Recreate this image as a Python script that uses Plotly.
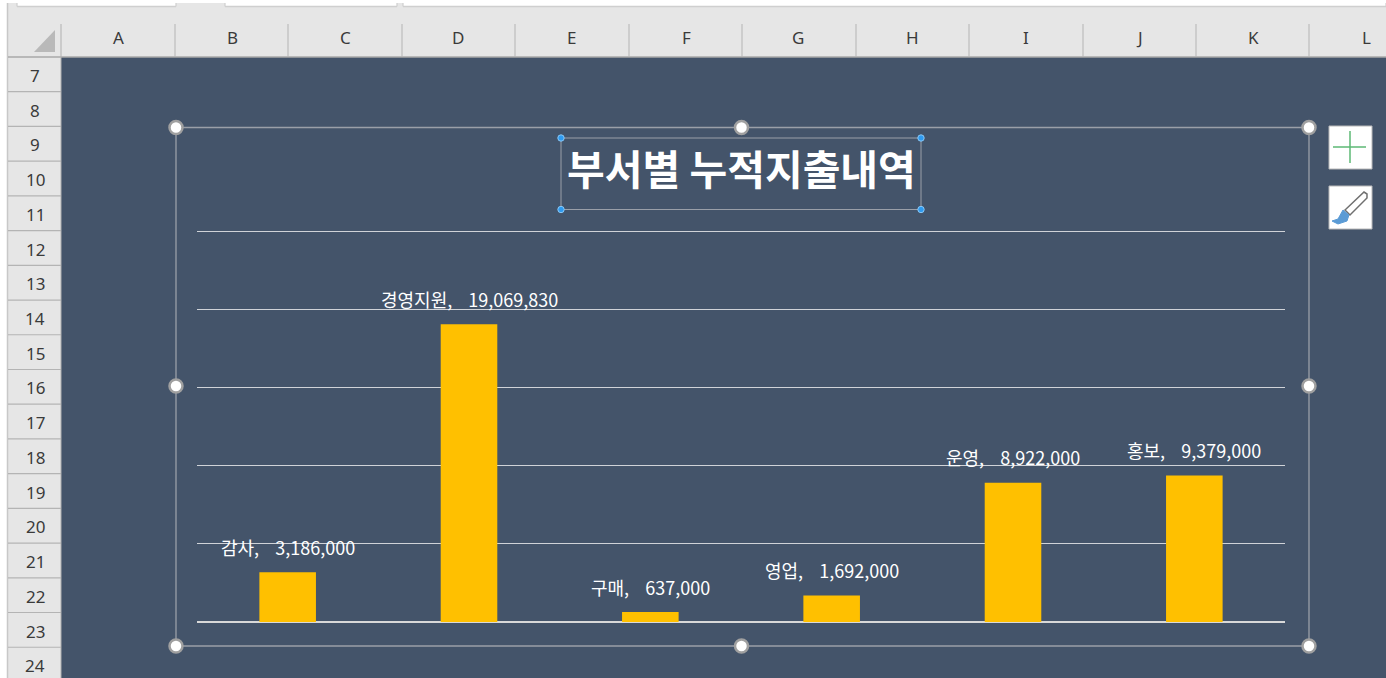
import plotly.graph_objects as go

W, H = 1386, 678
categories = ["감사", "경영지원", "구매", "영업", "운영", "홍보"]
values = [3186000, 19069830, 637000, 1692000, 8922000, 9379000]
title_text = "부서별 누적지출내역"
column_names = ["A", "B", "C", "D", "E", "F", "G", "H", "I", "J", "K", "L"]
row_names = [str(n) for n in range(7, 25)]

BG = "#44546A"
HEAD = "#E6E6E6"
SEP = "#B4B4B4"
FRAME = "#9A9FA8"
KR = "Noto Sans CJK KR"


def px(x):
    return x / W


def py(y):
    return 1 - y / H


shapes = []


def rect(x0, y0, x1, y1, fill, line=None, lw=1):
    shapes.append(dict(type="rect", xref="paper", yref="paper", x0=px(x0), x1=px(x1), y0=py(y0), y1=py(y1),
                       fillcolor=fill, line=dict(color=line or fill, width=lw if line else 0), layer="above"))


def line(x0, y0, x1, y1, color, lw=1):
    shapes.append(dict(type="line", xref="paper", yref="paper", x0=px(x0), x1=px(x1), y0=py(y0), y1=py(y1),
                       line=dict(color=color, width=lw), layer="above"))


def poly(points, fill, edge=None, lw=1):
    d = "M " + " L ".join(f"{px(a):.5f},{py(b):.5f}" for a, b in points) + " Z"
    shapes.append(dict(type="path", xref="paper", yref="paper", path=d, fillcolor=fill,
                       line=dict(color=edge or fill, width=lw if edge else 0), layer="above"))


def dot(cx, cy, r, fill, edge, lw):
    shapes.append(dict(type="circle", xref="paper", yref="paper", x0=px(cx - r), x1=px(cx + r),
                       y0=py(cy + r), y1=py(cy - r), fillcolor=fill, line=dict(color=edge, width=lw), layer="above"))


# spreadsheet chrome
rect(0, 0, W, 3, "#FFFFFF")
rect(0, 0, 7, H, "#FFFFFF")
rect(8, 3, W, 57, HEAD)
rect(8, 57, 61, H, HEAD)
line(7.5, 3, 7.5, H, "#C8C8C8", 1.5)
for x0, x1 in [(17, 176), (225, 397), (403, W)]:
    rect(x0, 3, x1, 6, "#FFFFFF")
    line(x0, 6.5, x1, 6.5, "#CFCFCF", 1.5)
    line(x0, 3, x0, 6.5, "#CFCFCF", 1.2)
    line(x1, 3, x1, 6.5, "#CFCFCF", 1.2)
poly([(55, 30), (55, 52), (34, 52)], "#B9B9B9")
line(8, 57, W, 57, "#A8A8A8", 1.5)
line(61, 24, 61, H, "#B0B0B0", 1)
col_edges = [61, 175, 288, 402, 515, 629, 742, 856, 969, 1083, 1196, 1309]
for x in col_edges[1:]:
    line(x, 24, x, 57, SEP, 1)
row_edges = [57 + 34.72 * i for i in range(19)]
for y in row_edges[1:]:
    line(8, y, 61, y, SEP, 1.2)

annotations = []
col_pos = [118, 232, 345, 458, 571, 686, 798, 912, 1026, 1139, 1253, 1366]
for name, x in zip(column_names, col_pos):
    annotations.append(dict(text=name, xref="paper", yref="paper", x=px(x), y=py(37), showarrow=False,
                            xanchor="center", yanchor="middle",
                            font=dict(family="Noto Sans", size=17, color="#3A3A3A")))
for i, name in enumerate(row_names):
    annotations.append(dict(text=name, xref="paper", yref="paper", x=px(35), y=py(75.5 + 34.72 * i), showarrow=False,
                            xanchor="center", yanchor="middle",
                            font=dict(family="Noto Sans", size=17, color="#3A3A3A")))

# selection frame and handles
shapes.append(dict(type="rect", xref="paper", yref="paper", x0=px(176), x1=px(1309), y0=py(127.5), y1=py(646),
                   line=dict(color=FRAME, width=1.3), layer="above"))
for cx, cy in [(176, 127.5), (741.5, 127.5), (1309, 127.5), (176, 386), (1309, 386), (176, 646), (741.5, 646), (1309, 646)]:
    dot(cx, cy, 6.5, "#FFFFFF", "#A0A0A0", 2.5)
shapes.append(dict(type="rect", xref="paper", yref="paper", x0=px(561), x1=px(921), y0=py(138), y1=py(209.5),
                   line=dict(color=FRAME, width=1), layer="above"))
for cx, cy in [(561, 138), (921, 138), (561, 209.5), (921, 209.5)]:
    dot(cx, cy, 3.2, "#2F9BF0", "#8CC8F5", 1)

# chart buttons
rect(1329, 126, 1372, 169, "#FFFFFF", "#B8B8B8", 1)
rect(1329, 186, 1372, 229, "#FFFFFF", "#B8B8B8", 1)
line(1333, 147, 1366, 147, "#5DB974", 1.5)
line(1350, 131, 1350, 163, "#5DB974", 1.5)
poly([(1345, 210), (1364, 192), (1367, 194), (1367, 198), (1350, 215)], "#FFFFFF", "#707070", 1.5)
poly([(1332, 221), (1338, 219), (1343, 210), (1349, 215), (1347, 221), (1338, 224)], "#5B9BD5", "#5B9BD5", 1)

# data labels anchored to the bars through the axes
for cat, val in zip(categories, values):
    annotations.append(dict(text=f"{cat},\u00a0\u00a0\u00a0\u00a0{val:,}", xref="x", yref="y", x=cat, y=val, yshift=25.5,
                            xanchor="center", yanchor="middle",
                            showarrow=False, font=dict(family=KR, size=18, color="#FFFFFF")))

annotations.append(dict(text=f"<b>{title_text}</b>", xref="paper", yref="paper", x=px(741), y=py(167.5),
                        xanchor="center", yanchor="middle",
                        showarrow=False, font=dict(family=KR, size=41, color="#FFFFFF")))

fig = go.Figure(go.Bar(x=categories, y=values, marker=dict(color="#FFC000", line=dict(width=0)),
                       width=0.312, hoverinfo="skip"))
fig.update_layout(
    width=W, height=H, margin=dict(l=0, r=0, t=0, b=0), autosize=False,
    paper_bgcolor=BG, plot_bgcolor=BG, showlegend=False,
    shapes=shapes, annotations=annotations,
    xaxis=dict(domain=[px(197), px(1285)], showticklabels=False, ticks="", showgrid=False, zeroline=False,
               showline=False, type="category", categoryorder="array", categoryarray=categories),
    yaxis=dict(domain=[py(622), py(229.5)], range=[0, 25128000], tickvals=[0, 5e6, 1e7, 1.5e7, 2e7, 2.5e7],
               showticklabels=False, ticks="", showgrid=True, gridcolor="#D0D3D8", gridwidth=1.3,
               zeroline=True, zerolinecolor="#D9D9D9", zerolinewidth=1.5, showline=False),
)
fig.write_html("out.html", post_script="document.body.style.margin='0';document.body.style.overflow='hidden';",
               config={"displayModeBar": False})
